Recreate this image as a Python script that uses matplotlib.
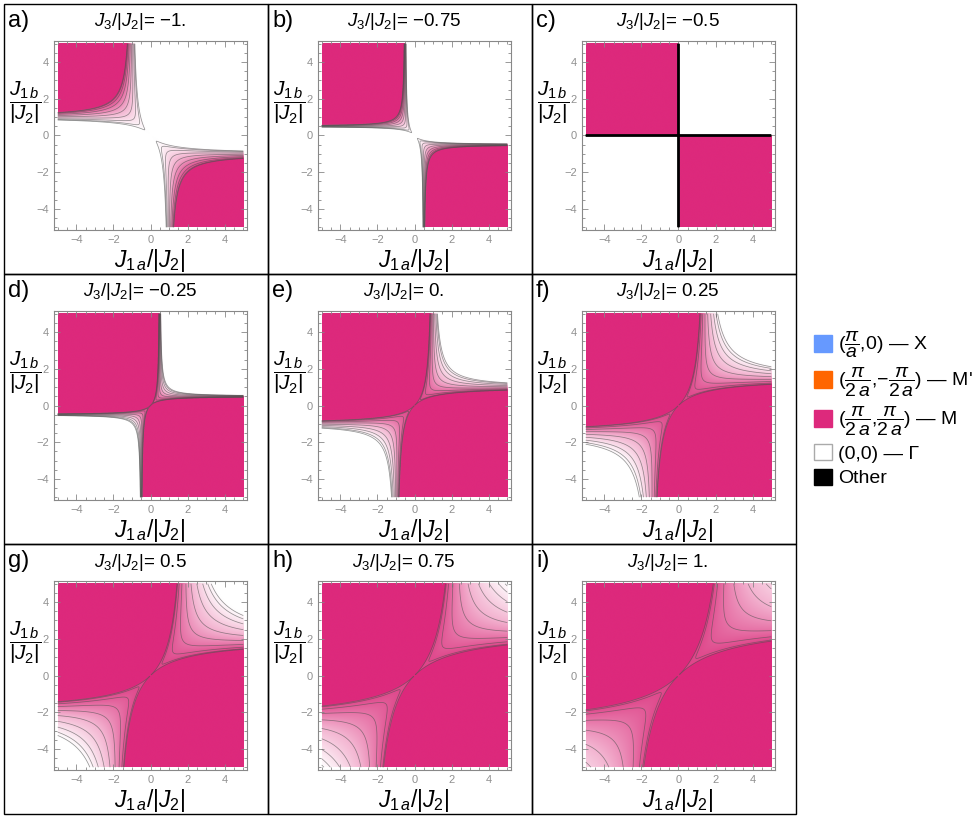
import numpy as np
import matplotlib
matplotlib.use('Agg')
import matplotlib.pyplot as plt
from matplotlib.colors import LinearSegmentedColormap, Normalize
from matplotlib.patches import Rectangle, Patch
from matplotlib.ticker import MultipleLocator

plt.rcParams['font.family'] = ['Liberation Sans', 'DejaVu Sans']
plt.rcParams['mathtext.fontset'] = 'custom'
plt.rcParams['mathtext.rm'] = 'Liberation Sans'
plt.rcParams['mathtext.it'] = 'Liberation Sans:italic'
plt.rcParams['mathtext.bf'] = 'Liberation Sans:bold'

# panel values
j3_values = [-1.0, -0.75, -0.5, -0.25, 0.0, 0.25, 0.5, 0.75, 1.0]
j3_labels = ['−1.', '−0.75', '−0.5', '−0.25', '0.', '0.25', '0.5', '0.75', '1.']
panel_tags = ['a)', 'b)', 'c)', 'd)', 'e)', 'f)', 'g)', 'h)', 'i)']
j2_abs = 1.0
j1_min, j1_max = -5.0, 5.0
tick_values = [-4, -2, 0, 2, 4]

# legend
legend_labels = [r'($\dfrac{\pi}{a}$,0) — X',
                 r"($\dfrac{\pi}{2\,a}$,−$\dfrac{\pi}{2\,a}$) — M'",
                 r'($\dfrac{\pi}{2\,a}$,$\dfrac{\pi}{2\,a}$) — M',
                 '(0,0) — Γ',
                 'Other']
legend_colors = ['#6699ff', '#ff6600', '#dd297c', '#ffffff', '#000000']

pink = '#dd297c'
fade_cmap = LinearSegmentedColormap.from_list('fade', ['#ffffff', '#f3b3d0', '#de4489'])
fade_cmap.set_over(pink)
contour_levels = [0.1, 0.2, 0.3, 0.4, 0.5, 0.6, 0.7, 0.8, 0.9, 0.995]

grid = np.linspace(j1_min, j1_max, 1001)
X, Y = np.meshgrid(grid, grid)


def spiral_cos(j1a, j1b, j3):
    # cos q of the spiral minimising E(c) = -sqrt(J1a^2+J1b^2+2 J1a J1b c) + (J2+2J3) c
    A = j2_abs + 2 * j3
    P = j1a * j1b
    S = j1a ** 2 + j1b ** 2
    if A == 0:
        c = np.sign(P)
    else:
        ratio = P / A
        with np.errstate(divide='ignore', invalid='ignore'):
            c_int = (ratio ** 2 - S) / (2 * P)
        c = np.where(ratio > 0, c_int, -np.sign(A))
    return np.clip(c, -1, 1), A


W, H = 978, 821
fig = plt.figure(figsize=(W / 100, H / 100), dpi=100)


def fx(px):
    return px / W


def fy(py):
    return 1 - py / H


cell_left = [4, 268, 532]
cell_top = [4, 274, 544]
cell_w, cell_h = 264, 270

for i, (j3, lab, tag) in enumerate(zip(j3_values, j3_labels, panel_tags)):
    r, col = divmod(i, 3)
    x0, y0 = cell_left[col], cell_top[r]
    fig.add_artist(Rectangle((fx(x0), fy(y0 + cell_h)), cell_w / W, cell_h / H,
                             transform=fig.transFigure, fill=False, ec='black', lw=1))
    ax = fig.add_axes([fx(x0 + 50), fy(y0 + 37 + 189), 193 / W, 189 / H])

    c, A = spiral_cos(X, Y, j3)
    q_frac = np.arccos(c) / np.pi
    shade = (1 - c) / 2
    ax.imshow(shade, extent=(j1_min, j1_max, j1_min, j1_max), origin='lower',
              cmap=fade_cmap, norm=Normalize(0, 0.9999), aspect='auto')
    ax.contour(X, Y, q_frac, levels=contour_levels, colors='#505050',
               linewidths=0.55, alpha=0.6)
    if A == 0:
        # degenerate (first-order) lines
        ax.contour(X, Y, X * Y, levels=[0], colors='black', linewidths=2)

    ax.set_xlim(-5.2, 5.2)
    ax.set_ylim(-5.15, 5.15)
    ax.set_xticks(tick_values)
    ax.set_yticks(tick_values)
    ax.xaxis.set_minor_locator(MultipleLocator(0.5))
    ax.yaxis.set_minor_locator(MultipleLocator(0.5))
    ax.tick_params(which='both', direction='in', top=True, right=True,
                   color='#888888', labelcolor='#909090', labelsize=8, width=0.6)
    ax.tick_params(which='major', length=4)
    ax.tick_params(which='minor', length=2)
    for s in ax.spines.values():
        s.set_color('#888888')

    fig.text(fx(x0 + 4), fy(y0 + 17), tag, fontsize=17, ha='left', va='center')
    fig.text(fx(x0 + 136), fy(y0 + 18), r'$J_3/|J_2|$= ' + lab,
             fontsize=13.5, ha='center', va='center')
    fig.text(fx(x0 + 146), fy(y0 + 256), r'$J_{1\,a}/|J_2|$',
             fontsize=16.5, ha='center', va='center')
    fig.text(fx(x0 + 21), fy(y0 + 99), r'$\dfrac{J_{1\,b}}{|J_2|}$',
             fontsize=15, ha='center', va='center')

handles = [Patch(facecolor=c, edgecolor=('#aaaaaa' if c == '#ffffff' else c))
           for c in legend_colors]
fig.legend(handles, legend_labels, loc='upper left',
           bbox_to_anchor=(fx(814), fy(330)), frameon=False, fontsize=14,
           handlelength=0.93, handleheight=0.93, handletextpad=0.3,
           labelspacing=0.3, borderpad=0, borderaxespad=0)

fig.savefig('out.png', dpi=100)
